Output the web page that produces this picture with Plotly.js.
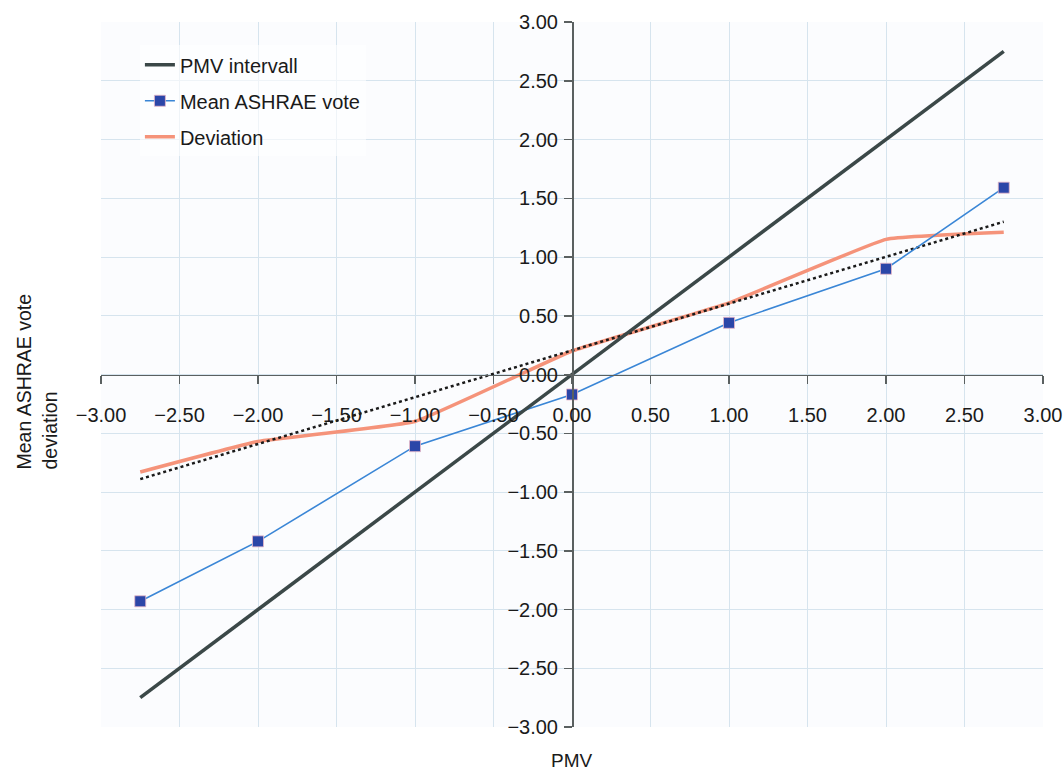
<!DOCTYPE html>
<html>
<head>
<meta charset="utf-8">
<script src="https://cdn.plot.ly/plotly-3.0.1.min.js"></script>
<style>html,body{margin:0;padding:0;background:#fff;}#chart{width:1063px;height:774px;}</style>
</head>
<body>
<div id="chart"></div>
<script>
// Data
const pmvX = [-2.75, 2.75];
const pmvY = [-2.75, 2.75];
const voteX = [-2.75, -2, -1, 0, 1, 2, 2.75];
const voteY = [-1.93, -1.42, -0.61, -0.17, 0.44, 0.90, 1.59];
const devX = [-2.75, -2, -1, 0, 1, 2, 2.75];
const devY = [-0.83, -0.57, -0.40, 0.20, 0.61, 1.15, 1.21];
const trendX = [-2.75, 2.75];
const trendY = [-0.89, 1.30];
const tickVals = [-3, -2.5, -2, -1.5, -1, -0.5, 0, 0.5, 1, 1.5, 2, 2.5, 3];
const seriesNames = ["PMV intervall", "Mean ASHRAE vote", "Deviation"];
const xTitle = "PMV";
const yTitle = "Mean ASHRAE vote<br>deviation";

const FONT = "Liberation Sans, Arial, Helvetica, sans-serif";

const traces = [
  {x: devX, y: devY, name: seriesNames[2], mode: "lines", legendgroup: "c", legendrank: 3,
   line: {color: "#f5937a", width: 3.5, shape: "spline", smoothing: 0.3}},
  {x: trendX, y: trendY, mode: "lines", showlegend: false, hoverinfo: "skip",
   line: {color: "#1a1a1a", width: 2.5, dash: "dot"}},
  {x: voteX, y: voteY, name: seriesNames[1], mode: "lines+markers", legendgroup: "b", legendrank: 2,
   line: {color: "#3a86d6", width: 1.6},
   marker: {symbol: "square", size: 11, color: "#2b46a8", line: {color: "#e9b8c8", width: 0.8}}},
  {x: pmvX, y: pmvY, name: seriesNames[0], mode: "lines", legendgroup: "a", legendrank: 1,
   line: {color: "#3b4848", width: 3.5}}
];

const axisCommon = {
  range: [-3, 3], tickvals: tickVals, tickformat: ".2f",
  showgrid: true, gridcolor: "#d6e4ee", gridwidth: 1,
  zeroline: false, showline: true, linecolor: "#5a6060", linewidth: 1.5,
  ticks: "outside", ticklen: 8, tickcolor: "#5a6060", tickwidth: 1.5,
  tickfont: {family: FONT, size: 20, color: "#1a1a1a"},
  anchor: "free", position: 0.5, fixedrange: true
};

const layout = {
  width: 1063, height: 774,
  margin: {l: 101, r: 20, t: 22, b: 47},
  paper_bgcolor: "#ffffff", plot_bgcolor: "#fbfcfe",
  font: {family: FONT, size: 20, color: "#1a1a1a"},
  showlegend: true,
  legend: {x: 0.0413, y: 0.967, xanchor: "left", yanchor: "top",
           bgcolor: "rgba(255,255,255,0.6)", borderwidth: 0,
           tracegroupgap: 7, font: {family: FONT, size: 20, color: "#1a1a1a"}},
  xaxis: Object.assign({}, axisCommon, {side: "bottom", ticklabelstandoff: 14}),
  yaxis: Object.assign({}, axisCommon, {side: "left", ticklabelstandoff: 2}),
  annotations: [
    {text: xTitle, xref: "paper", yref: "paper", x: 0.5, y: -0.047, xanchor: "center", yanchor: "middle",
     showarrow: false, font: {family: FONT, size: 19, color: "#1a1a1a"}},
    {text: yTitle, xref: "paper", yref: "paper", x: -0.068, y: 0.49, xanchor: "center", yanchor: "middle",
     textangle: -90, align: "left", showarrow: false, font: {family: FONT, size: 19.5, color: "#1a1a1a"}}
  ]
};

Plotly.newPlot("chart", traces, layout, {staticPlot: true, displayModeBar: false});
</script>
</body>
</html>
